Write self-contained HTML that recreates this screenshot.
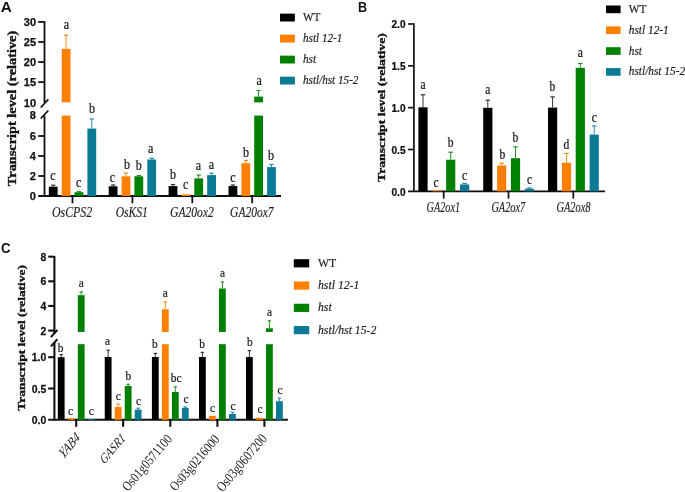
<!DOCTYPE html><html><head><meta charset="utf-8"><style>html,body{margin:0;padding:0;background:#fff;width:685px;height:492px;overflow:hidden}svg{display:block;filter:blur(0.4px)}</style></head><body>
<svg width="685" height="492" viewBox="0 0 685 492">
<rect width="685" height="492" fill="#fff"/>
<text transform="translate(0.80,12.00) scale(1.0335,1)" x="-0.00" y="0" font-family='"Liberation Sans", sans-serif' font-style="normal" font-weight="bold" font-size="14.78" fill="#111" stroke="#111" stroke-width="0">A</text>
<text transform="translate(358.00,11.60) scale(0.8899,1)" x="-0.00" y="0" font-family='"Liberation Sans", sans-serif' font-style="normal" font-weight="bold" font-size="14.20" fill="#111" stroke="#111" stroke-width="0">B</text>
<text transform="translate(1.00,253.40) scale(0.8805,1)" x="-0.00" y="0" font-family='"Liberation Sans", sans-serif' font-style="normal" font-weight="bold" font-size="15.14" fill="#111" stroke="#111" stroke-width="0">C</text>
<line x1="44.50" y1="21.25" x2="44.50" y2="102.60" stroke="#111" stroke-width="1.8"/>
<line x1="44.50" y1="115.40" x2="44.50" y2="196.65" stroke="#111" stroke-width="1.8"/>
<line x1="40.70" y1="107.50" x2="48.30" y2="99.40" stroke="#111" stroke-width="1.8"/>
<line x1="40.70" y1="118.50" x2="48.30" y2="110.50" stroke="#111" stroke-width="1.8"/>
<line x1="38.20" y1="21.90" x2="44.50" y2="21.90" stroke="#111" stroke-width="1.8"/>
<line x1="38.20" y1="41.97" x2="44.50" y2="41.97" stroke="#111" stroke-width="1.8"/>
<line x1="38.20" y1="62.05" x2="44.50" y2="62.05" stroke="#111" stroke-width="1.8"/>
<line x1="38.20" y1="82.12" x2="44.50" y2="82.12" stroke="#111" stroke-width="1.8"/>
<line x1="38.20" y1="136.00" x2="44.50" y2="136.00" stroke="#111" stroke-width="1.8"/>
<line x1="38.20" y1="156.00" x2="44.50" y2="156.00" stroke="#111" stroke-width="1.8"/>
<line x1="38.20" y1="176.00" x2="44.50" y2="176.00" stroke="#111" stroke-width="1.8"/>
<line x1="38.20" y1="196.00" x2="281.00" y2="196.00" stroke="#111" stroke-width="1.8"/>
<text transform="translate(23.79,26.15) scale(1.0000,1)" x="-0.00" y="0" font-family='"Liberation Sans", sans-serif' font-style="normal" font-weight="bold" font-size="11.00" fill="#111" stroke="#111" stroke-width="0.25">30</text>
<text transform="translate(23.79,46.22) scale(1.0000,1)" x="-0.00" y="0" font-family='"Liberation Sans", sans-serif' font-style="normal" font-weight="bold" font-size="11.00" fill="#111" stroke="#111" stroke-width="0.25">25</text>
<text transform="translate(23.79,66.30) scale(1.0000,1)" x="-0.00" y="0" font-family='"Liberation Sans", sans-serif' font-style="normal" font-weight="bold" font-size="11.00" fill="#111" stroke="#111" stroke-width="0.25">20</text>
<text transform="translate(23.79,86.32) scale(1.0000,1)" x="-0.00" y="0" font-family='"Liberation Sans", sans-serif' font-style="normal" font-weight="bold" font-size="11.00" fill="#111" stroke="#111" stroke-width="0.25">15</text>
<text transform="translate(23.79,106.65) scale(1.0000,1)" x="-0.00" y="0" font-family='"Liberation Sans", sans-serif' font-style="normal" font-weight="bold" font-size="11.00" fill="#111" stroke="#111" stroke-width="0.25">10</text>
<text transform="translate(29.84,119.45) scale(1.0000,1)" x="-0.00" y="0" font-family='"Liberation Sans", sans-serif' font-style="normal" font-weight="bold" font-size="11.00" fill="#111" stroke="#111" stroke-width="0.25">8</text>
<text transform="translate(29.84,140.05) scale(1.0000,1)" x="-0.00" y="0" font-family='"Liberation Sans", sans-serif' font-style="normal" font-weight="bold" font-size="11.00" fill="#111" stroke="#111" stroke-width="0.25">6</text>
<text transform="translate(29.84,159.99) scale(1.0000,1)" x="-0.00" y="0" font-family='"Liberation Sans", sans-serif' font-style="normal" font-weight="bold" font-size="11.00" fill="#111" stroke="#111" stroke-width="0.25">4</text>
<text transform="translate(29.84,180.05) scale(1.0000,1)" x="-0.00" y="0" font-family='"Liberation Sans", sans-serif' font-style="normal" font-weight="bold" font-size="11.00" fill="#111" stroke="#111" stroke-width="0.25">2</text>
<text transform="translate(29.84,200.05) scale(1.0000,1)" x="-0.00" y="0" font-family='"Liberation Sans", sans-serif' font-style="normal" font-weight="bold" font-size="11.00" fill="#111" stroke="#111" stroke-width="0.25">0</text>
<text transform="translate(16.00,186.20) rotate(-90) scale(1.1659,1)" x="-0.00" y="0" font-family='"Liberation Serif", serif' font-weight="bold" font-size="12.30" fill="#111" stroke="#111" stroke-width="0.35">Transcript level (relative)</text>
<line x1="72.50" y1="196.00" x2="72.50" y2="203.30" stroke="#111" stroke-width="1.8"/>
<line x1="132.40" y1="196.00" x2="132.40" y2="203.30" stroke="#111" stroke-width="1.8"/>
<line x1="192.30" y1="196.00" x2="192.30" y2="203.30" stroke="#111" stroke-width="1.8"/>
<line x1="252.20" y1="196.00" x2="252.20" y2="203.30" stroke="#111" stroke-width="1.8"/>
<rect x="48.80" y="186.70" width="8.80" height="9.30" fill="#000000"/>
<line x1="53.20" y1="185.20" x2="53.20" y2="186.70" stroke="#333" stroke-width="1.0"/>
<line x1="51.00" y1="185.20" x2="55.40" y2="185.20" stroke="#333" stroke-width="1.2"/>
<rect x="61.70" y="48.90" width="8.80" height="53.40" fill="#ff8000"/>
<rect x="61.70" y="115.60" width="8.80" height="80.40" fill="#ff8000"/>
<line x1="66.10" y1="35.20" x2="66.10" y2="48.90" stroke="#ff8a1a" stroke-width="1.0"/>
<line x1="63.90" y1="35.20" x2="68.30" y2="35.20" stroke="#ff8a1a" stroke-width="1.2"/>
<rect x="74.50" y="192.20" width="8.80" height="3.80" fill="#008000"/>
<line x1="78.90" y1="191.50" x2="78.90" y2="192.20" stroke="#2a8f2a" stroke-width="1.0"/>
<line x1="76.70" y1="191.50" x2="81.10" y2="191.50" stroke="#2a8f2a" stroke-width="1.2"/>
<rect x="87.40" y="128.60" width="8.80" height="67.40" fill="#0b7b95"/>
<line x1="91.80" y1="119.00" x2="91.80" y2="128.60" stroke="#2a8aa3" stroke-width="1.0"/>
<line x1="89.60" y1="119.00" x2="94.00" y2="119.00" stroke="#2a8aa3" stroke-width="1.2"/>
<rect x="108.70" y="186.30" width="8.80" height="9.70" fill="#000000"/>
<line x1="113.10" y1="185.00" x2="113.10" y2="186.30" stroke="#333" stroke-width="1.0"/>
<line x1="110.90" y1="185.00" x2="115.30" y2="185.00" stroke="#333" stroke-width="1.2"/>
<rect x="121.60" y="176.30" width="8.80" height="19.70" fill="#ff8000"/>
<line x1="126.00" y1="173.00" x2="126.00" y2="176.30" stroke="#ff8a1a" stroke-width="1.0"/>
<line x1="123.80" y1="173.00" x2="128.20" y2="173.00" stroke="#ff8a1a" stroke-width="1.2"/>
<rect x="134.40" y="176.30" width="8.80" height="19.70" fill="#008000"/>
<line x1="138.80" y1="175.60" x2="138.80" y2="176.30" stroke="#2a8f2a" stroke-width="1.0"/>
<line x1="136.60" y1="175.60" x2="141.00" y2="175.60" stroke="#2a8f2a" stroke-width="1.2"/>
<rect x="147.30" y="159.50" width="8.80" height="36.50" fill="#0b7b95"/>
<line x1="151.70" y1="158.30" x2="151.70" y2="159.50" stroke="#2a8aa3" stroke-width="1.0"/>
<line x1="149.50" y1="158.30" x2="153.90" y2="158.30" stroke="#2a8aa3" stroke-width="1.2"/>
<rect x="168.60" y="186.10" width="8.80" height="9.90" fill="#000000"/>
<line x1="173.00" y1="184.50" x2="173.00" y2="186.10" stroke="#333" stroke-width="1.0"/>
<line x1="170.80" y1="184.50" x2="175.20" y2="184.50" stroke="#333" stroke-width="1.2"/>
<rect x="181.50" y="194.40" width="8.80" height="1.60" fill="#ff8000"/>
<rect x="194.30" y="178.40" width="8.80" height="17.60" fill="#008000"/>
<line x1="198.70" y1="175.10" x2="198.70" y2="178.40" stroke="#2a8f2a" stroke-width="1.0"/>
<line x1="196.50" y1="175.10" x2="200.90" y2="175.10" stroke="#2a8f2a" stroke-width="1.2"/>
<rect x="207.20" y="175.10" width="8.80" height="20.90" fill="#0b7b95"/>
<line x1="211.60" y1="173.20" x2="211.60" y2="175.10" stroke="#2a8aa3" stroke-width="1.0"/>
<line x1="209.40" y1="173.20" x2="213.80" y2="173.20" stroke="#2a8aa3" stroke-width="1.2"/>
<rect x="228.50" y="186.10" width="8.80" height="9.90" fill="#000000"/>
<line x1="232.90" y1="185.00" x2="232.90" y2="186.10" stroke="#333" stroke-width="1.0"/>
<line x1="230.70" y1="185.00" x2="235.10" y2="185.00" stroke="#333" stroke-width="1.2"/>
<rect x="241.40" y="163.20" width="8.80" height="32.80" fill="#ff8000"/>
<line x1="245.80" y1="160.40" x2="245.80" y2="163.20" stroke="#ff8a1a" stroke-width="1.0"/>
<line x1="243.60" y1="160.40" x2="248.00" y2="160.40" stroke="#ff8a1a" stroke-width="1.2"/>
<rect x="254.20" y="96.60" width="8.80" height="5.80" fill="#008000"/>
<rect x="254.20" y="115.60" width="8.80" height="80.40" fill="#008000"/>
<line x1="258.60" y1="90.50" x2="258.60" y2="96.60" stroke="#2a8f2a" stroke-width="1.0"/>
<line x1="256.40" y1="90.50" x2="260.80" y2="90.50" stroke="#2a8f2a" stroke-width="1.2"/>
<rect x="267.10" y="167.10" width="8.80" height="28.90" fill="#0b7b95"/>
<line x1="271.50" y1="164.40" x2="271.50" y2="167.10" stroke="#2a8aa3" stroke-width="1.0"/>
<line x1="269.30" y1="164.40" x2="273.70" y2="164.40" stroke="#2a8aa3" stroke-width="1.2"/>
<text transform="translate(50.14,180.20) scale(0.8500,1)" x="-0.00" y="0" font-family='"Liberation Serif", serif' font-style="normal" font-weight="normal" font-size="14.20" fill="#1a1a1a" stroke="#1a1a1a" stroke-width="0.25">c</text>
<text transform="translate(63.74,29.10) scale(0.8500,1)" x="-0.00" y="0" font-family='"Liberation Serif", serif' font-style="normal" font-weight="normal" font-size="14.20" fill="#1a1a1a" stroke="#1a1a1a" stroke-width="0.25">a</text>
<text transform="translate(75.94,187.00) scale(0.8500,1)" x="-0.00" y="0" font-family='"Liberation Serif", serif' font-style="normal" font-weight="normal" font-size="14.20" fill="#1a1a1a" stroke="#1a1a1a" stroke-width="0.25">c</text>
<text transform="translate(88.88,113.20) scale(0.8500,1)" x="-0.00" y="0" font-family='"Liberation Serif", serif' font-style="normal" font-weight="normal" font-size="14.20" fill="#1a1a1a" stroke="#1a1a1a" stroke-width="0.25">b</text>
<text transform="translate(109.84,182.00) scale(0.8500,1)" x="-0.00" y="0" font-family='"Liberation Serif", serif' font-style="normal" font-weight="normal" font-size="14.20" fill="#1a1a1a" stroke="#1a1a1a" stroke-width="0.25">c</text>
<text transform="translate(123.88,168.70) scale(0.8500,1)" x="-0.00" y="0" font-family='"Liberation Serif", serif' font-style="normal" font-weight="normal" font-size="14.20" fill="#1a1a1a" stroke="#1a1a1a" stroke-width="0.25">b</text>
<text transform="translate(135.68,169.90) scale(0.8500,1)" x="-0.00" y="0" font-family='"Liberation Serif", serif' font-style="normal" font-weight="normal" font-size="14.20" fill="#1a1a1a" stroke="#1a1a1a" stroke-width="0.25">b</text>
<text transform="translate(148.04,152.80) scale(0.8500,1)" x="-0.00" y="0" font-family='"Liberation Serif", serif' font-style="normal" font-weight="normal" font-size="14.20" fill="#1a1a1a" stroke="#1a1a1a" stroke-width="0.25">a</text>
<text transform="translate(170.08,179.30) scale(0.8500,1)" x="-0.00" y="0" font-family='"Liberation Serif", serif' font-style="normal" font-weight="normal" font-size="14.20" fill="#1a1a1a" stroke="#1a1a1a" stroke-width="0.25">b</text>
<text transform="translate(182.94,189.40) scale(0.8500,1)" x="-0.00" y="0" font-family='"Liberation Serif", serif' font-style="normal" font-weight="normal" font-size="14.20" fill="#1a1a1a" stroke="#1a1a1a" stroke-width="0.25">c</text>
<text transform="translate(195.64,169.90) scale(0.8500,1)" x="-0.00" y="0" font-family='"Liberation Serif", serif' font-style="normal" font-weight="normal" font-size="14.20" fill="#1a1a1a" stroke="#1a1a1a" stroke-width="0.25">a</text>
<text transform="translate(208.64,169.00) scale(0.8500,1)" x="-0.00" y="0" font-family='"Liberation Serif", serif' font-style="normal" font-weight="normal" font-size="14.20" fill="#1a1a1a" stroke="#1a1a1a" stroke-width="0.25">a</text>
<text transform="translate(230.34,181.50) scale(0.8500,1)" x="-0.00" y="0" font-family='"Liberation Serif", serif' font-style="normal" font-weight="normal" font-size="14.20" fill="#1a1a1a" stroke="#1a1a1a" stroke-width="0.25">c</text>
<text transform="translate(243.08,156.50) scale(0.8500,1)" x="-0.00" y="0" font-family='"Liberation Serif", serif' font-style="normal" font-weight="normal" font-size="14.20" fill="#1a1a1a" stroke="#1a1a1a" stroke-width="0.25">b</text>
<text transform="translate(256.44,85.00) scale(0.8500,1)" x="-0.00" y="0" font-family='"Liberation Serif", serif' font-style="normal" font-weight="normal" font-size="14.20" fill="#1a1a1a" stroke="#1a1a1a" stroke-width="0.25">a</text>
<text transform="translate(267.98,160.10) scale(0.8500,1)" x="-0.00" y="0" font-family='"Liberation Serif", serif' font-style="normal" font-weight="normal" font-size="14.20" fill="#1a1a1a" stroke="#1a1a1a" stroke-width="0.25">b</text>
<text transform="translate(52.00,216.80) scale(0.7986,1)" x="-0.00" y="0" font-family='"Liberation Serif", serif' font-style="italic" font-weight="normal" font-size="14.85" fill="#222" stroke="#222" stroke-width="0.15">OsCPS2</text>
<rect x="280.10" y="13.80" width="14.60" height="7.50" fill="#000000"/>
<rect x="280.10" y="34.80" width="14.60" height="7.50" fill="#ff8000"/>
<rect x="280.10" y="55.80" width="14.60" height="7.50" fill="#008000"/>
<rect x="280.10" y="76.80" width="14.60" height="7.50" fill="#0b7b95"/>
<rect x="280.10" y="13.80" width="14.60" height="7.50" fill="#000000"/>
<text transform="translate(303.00,20.98) scale(0.9000,1)" x="-0.00" y="0" font-family='"Liberation Serif", serif' font-style="normal" font-size="12.40" fill="#222" stroke="#222" stroke-width="0.2">WT</text>
<rect x="280.10" y="34.80" width="14.60" height="7.50" fill="#ff8000"/>
<text transform="translate(303.00,41.98) scale(0.9000,1)" x="-0.00" y="0" font-family='"Liberation Serif", serif' font-style="italic" font-size="12.40" fill="#222" stroke="#222" stroke-width="0.2">hstl 12-1</text>
<rect x="280.10" y="55.80" width="14.60" height="7.50" fill="#008000"/>
<text transform="translate(303.00,62.98) scale(0.9000,1)" x="-0.00" y="0" font-family='"Liberation Serif", serif' font-style="italic" font-size="12.40" fill="#222" stroke="#222" stroke-width="0.2">hst</text>
<rect x="280.10" y="76.80" width="14.60" height="7.50" fill="#0b7b95"/>
<text transform="translate(303.00,83.98) scale(0.9000,1)" x="-0.00" y="0" font-family='"Liberation Serif", serif' font-style="italic" font-size="12.40" fill="#222" stroke="#222" stroke-width="0.2">hstl/hst 15-2</text>
<rect x="606.00" y="5.50" width="14.60" height="7.70" fill="#000000"/>
<text transform="translate(628.80,12.85) scale(0.9000,1)" x="-0.00" y="0" font-family='"Liberation Serif", serif' font-style="normal" font-size="12.60" fill="#222" stroke="#222" stroke-width="0.2">WT</text>
<rect x="606.00" y="26.35" width="14.60" height="7.70" fill="#ff8000"/>
<text transform="translate(628.80,33.70) scale(0.9000,1)" x="-0.00" y="0" font-family='"Liberation Serif", serif' font-style="italic" font-size="12.60" fill="#222" stroke="#222" stroke-width="0.2">hstl 12-1</text>
<rect x="606.00" y="47.20" width="14.60" height="7.70" fill="#008000"/>
<text transform="translate(628.80,54.55) scale(0.9000,1)" x="-0.00" y="0" font-family='"Liberation Serif", serif' font-style="italic" font-size="12.60" fill="#222" stroke="#222" stroke-width="0.2">hst</text>
<rect x="606.00" y="68.05" width="14.60" height="7.70" fill="#0b7b95"/>
<text transform="translate(628.80,75.40) scale(0.9000,1)" x="-0.00" y="0" font-family='"Liberation Serif", serif' font-style="italic" font-size="12.60" fill="#222" stroke="#222" stroke-width="0.2">hstl/hst 15-2</text>
<rect x="293.80" y="259.20" width="15.40" height="8.20" fill="#000000"/>
<text transform="translate(318.00,266.89) scale(0.9100,1)" x="-0.00" y="0" font-family='"Liberation Serif", serif' font-style="normal" font-size="12.90" fill="#222" stroke="#222" stroke-width="0.2">WT</text>
<rect x="293.80" y="281.47" width="15.40" height="8.20" fill="#ff8000"/>
<text transform="translate(318.00,289.16) scale(0.9100,1)" x="-0.00" y="0" font-family='"Liberation Serif", serif' font-style="italic" font-size="12.90" fill="#222" stroke="#222" stroke-width="0.2">hstl 12-1</text>
<rect x="293.80" y="303.74" width="15.40" height="8.20" fill="#008000"/>
<text transform="translate(318.00,311.43) scale(0.9100,1)" x="-0.00" y="0" font-family='"Liberation Serif", serif' font-style="italic" font-size="12.90" fill="#222" stroke="#222" stroke-width="0.2">hst</text>
<rect x="293.80" y="326.01" width="15.40" height="8.20" fill="#0b7b95"/>
<text transform="translate(318.00,333.70) scale(0.9100,1)" x="-0.00" y="0" font-family='"Liberation Serif", serif' font-style="italic" font-size="12.90" fill="#222" stroke="#222" stroke-width="0.2">hstl/hst 15-2</text>
<line x1="413.90" y1="23.35" x2="413.90" y2="191.95" stroke="#111" stroke-width="1.7"/>
<line x1="408.10" y1="24.00" x2="413.90" y2="24.00" stroke="#111" stroke-width="1.7"/>
<line x1="408.10" y1="65.83" x2="413.90" y2="65.83" stroke="#111" stroke-width="1.7"/>
<line x1="408.10" y1="107.65" x2="413.90" y2="107.65" stroke="#111" stroke-width="1.7"/>
<line x1="408.10" y1="149.48" x2="413.90" y2="149.48" stroke="#111" stroke-width="1.7"/>
<line x1="408.10" y1="191.30" x2="605.10" y2="191.30" stroke="#111" stroke-width="1.7"/>
<text transform="translate(391.49,28.42) scale(0.9000,1)" x="-0.00" y="0" font-family='"Liberation Sans", sans-serif' font-style="normal" font-weight="bold" font-size="11.20" fill="#111" stroke="#111" stroke-width="0.25">2.0</text>
<text transform="translate(391.49,70.19) scale(0.9000,1)" x="-0.00" y="0" font-family='"Liberation Sans", sans-serif' font-style="normal" font-weight="bold" font-size="11.20" fill="#111" stroke="#111" stroke-width="0.25">1.5</text>
<text transform="translate(391.49,112.07) scale(0.9000,1)" x="-0.00" y="0" font-family='"Liberation Sans", sans-serif' font-style="normal" font-weight="bold" font-size="11.20" fill="#111" stroke="#111" stroke-width="0.25">1.0</text>
<text transform="translate(391.49,153.90) scale(0.9000,1)" x="-0.00" y="0" font-family='"Liberation Sans", sans-serif' font-style="normal" font-weight="bold" font-size="11.20" fill="#111" stroke="#111" stroke-width="0.25">0.5</text>
<text transform="translate(391.49,195.72) scale(0.9000,1)" x="-0.00" y="0" font-family='"Liberation Sans", sans-serif' font-style="normal" font-weight="bold" font-size="11.20" fill="#111" stroke="#111" stroke-width="0.25">0.0</text>
<text transform="translate(384.90,182.00) rotate(-90) scale(1.2724,1)" x="-0.00" y="0" font-family='"Liberation Serif", serif' font-weight="bold" font-size="10.80" fill="#111" stroke="#111" stroke-width="0.35">Transcript level (relative)</text>
<line x1="443.70" y1="191.30" x2="443.70" y2="198.60" stroke="#111" stroke-width="1.7"/>
<line x1="508.50" y1="191.30" x2="508.50" y2="198.60" stroke="#111" stroke-width="1.7"/>
<line x1="573.30" y1="191.30" x2="573.30" y2="198.60" stroke="#111" stroke-width="1.7"/>
<rect x="418.40" y="107.30" width="9.20" height="84.00" fill="#000000"/>
<line x1="423.00" y1="94.80" x2="423.00" y2="107.30" stroke="#333" stroke-width="1.0"/>
<line x1="420.70" y1="94.80" x2="425.30" y2="94.80" stroke="#333" stroke-width="1.2"/>
<rect x="432.30" y="190.40" width="9.20" height="0.90" fill="#ff8000"/>
<rect x="446.10" y="159.70" width="9.20" height="31.60" fill="#008000"/>
<line x1="450.70" y1="152.20" x2="450.70" y2="159.70" stroke="#2a8f2a" stroke-width="1.0"/>
<line x1="448.40" y1="152.20" x2="453.00" y2="152.20" stroke="#2a8f2a" stroke-width="1.2"/>
<rect x="460.00" y="184.40" width="9.20" height="6.90" fill="#0b7b95"/>
<line x1="464.60" y1="183.40" x2="464.60" y2="184.40" stroke="#2a8aa3" stroke-width="1.0"/>
<line x1="462.30" y1="183.40" x2="466.90" y2="183.40" stroke="#2a8aa3" stroke-width="1.2"/>
<rect x="483.20" y="107.80" width="9.20" height="83.50" fill="#000000"/>
<line x1="487.80" y1="100.20" x2="487.80" y2="107.80" stroke="#333" stroke-width="1.0"/>
<line x1="485.50" y1="100.20" x2="490.10" y2="100.20" stroke="#333" stroke-width="1.2"/>
<rect x="497.10" y="165.50" width="9.20" height="25.80" fill="#ff8000"/>
<line x1="501.70" y1="163.30" x2="501.70" y2="165.50" stroke="#ff8a1a" stroke-width="1.0"/>
<line x1="499.40" y1="163.30" x2="504.00" y2="163.30" stroke="#ff8a1a" stroke-width="1.2"/>
<rect x="510.90" y="158.20" width="9.20" height="33.10" fill="#008000"/>
<line x1="515.50" y1="146.80" x2="515.50" y2="158.20" stroke="#2a8f2a" stroke-width="1.0"/>
<line x1="513.20" y1="146.80" x2="517.80" y2="146.80" stroke="#2a8f2a" stroke-width="1.2"/>
<rect x="524.80" y="188.70" width="9.20" height="2.60" fill="#0b7b95"/>
<line x1="529.40" y1="187.90" x2="529.40" y2="188.70" stroke="#2a8aa3" stroke-width="1.0"/>
<line x1="527.10" y1="187.90" x2="531.70" y2="187.90" stroke="#2a8aa3" stroke-width="1.2"/>
<rect x="548.00" y="107.60" width="9.20" height="83.70" fill="#000000"/>
<line x1="552.60" y1="96.90" x2="552.60" y2="107.60" stroke="#333" stroke-width="1.0"/>
<line x1="550.30" y1="96.90" x2="554.90" y2="96.90" stroke="#333" stroke-width="1.2"/>
<rect x="561.90" y="162.70" width="9.20" height="28.60" fill="#ff8000"/>
<line x1="566.50" y1="153.40" x2="566.50" y2="162.70" stroke="#ff8a1a" stroke-width="1.0"/>
<line x1="564.20" y1="153.40" x2="568.80" y2="153.40" stroke="#ff8a1a" stroke-width="1.2"/>
<rect x="575.70" y="67.80" width="9.20" height="123.50" fill="#008000"/>
<line x1="580.30" y1="63.50" x2="580.30" y2="67.80" stroke="#2a8f2a" stroke-width="1.0"/>
<line x1="578.00" y1="63.50" x2="582.60" y2="63.50" stroke="#2a8f2a" stroke-width="1.2"/>
<rect x="589.60" y="134.60" width="9.20" height="56.70" fill="#0b7b95"/>
<line x1="594.20" y1="126.00" x2="594.20" y2="134.60" stroke="#2a8aa3" stroke-width="1.0"/>
<line x1="591.90" y1="126.00" x2="596.50" y2="126.00" stroke="#2a8aa3" stroke-width="1.2"/>
<text transform="translate(420.56,89.00) scale(0.8500,1)" x="-0.00" y="0" font-family='"Liberation Serif", serif' font-style="normal" font-weight="normal" font-size="13.60" fill="#1a1a1a" stroke="#1a1a1a" stroke-width="0.25">a</text>
<text transform="translate(433.56,186.80) scale(0.8500,1)" x="-0.00" y="0" font-family='"Liberation Serif", serif' font-style="normal" font-weight="normal" font-size="13.60" fill="#1a1a1a" stroke="#1a1a1a" stroke-width="0.25">c</text>
<text transform="translate(447.71,146.50) scale(0.8500,1)" x="-0.00" y="0" font-family='"Liberation Serif", serif' font-style="normal" font-weight="normal" font-size="13.60" fill="#1a1a1a" stroke="#1a1a1a" stroke-width="0.25">b</text>
<text transform="translate(461.96,180.20) scale(0.8500,1)" x="-0.00" y="0" font-family='"Liberation Serif", serif' font-style="normal" font-weight="normal" font-size="13.60" fill="#1a1a1a" stroke="#1a1a1a" stroke-width="0.25">c</text>
<text transform="translate(485.36,94.10) scale(0.8500,1)" x="-0.00" y="0" font-family='"Liberation Serif", serif' font-style="normal" font-weight="normal" font-size="13.60" fill="#1a1a1a" stroke="#1a1a1a" stroke-width="0.25">a</text>
<text transform="translate(499.41,158.80) scale(0.8500,1)" x="-0.00" y="0" font-family='"Liberation Serif", serif' font-style="normal" font-weight="normal" font-size="13.60" fill="#1a1a1a" stroke="#1a1a1a" stroke-width="0.25">b</text>
<text transform="translate(512.61,141.70) scale(0.8500,1)" x="-0.00" y="0" font-family='"Liberation Serif", serif' font-style="normal" font-weight="normal" font-size="13.60" fill="#1a1a1a" stroke="#1a1a1a" stroke-width="0.25">b</text>
<text transform="translate(527.06,184.40) scale(0.8500,1)" x="-0.00" y="0" font-family='"Liberation Serif", serif' font-style="normal" font-weight="normal" font-size="13.60" fill="#1a1a1a" stroke="#1a1a1a" stroke-width="0.25">c</text>
<text transform="translate(549.61,91.30) scale(0.8500,1)" x="-0.00" y="0" font-family='"Liberation Serif", serif' font-style="normal" font-weight="normal" font-size="13.60" fill="#1a1a1a" stroke="#1a1a1a" stroke-width="0.25">b</text>
<text transform="translate(563.51,148.50) scale(0.8500,1)" x="-0.00" y="0" font-family='"Liberation Serif", serif' font-style="normal" font-weight="normal" font-size="13.60" fill="#1a1a1a" stroke="#1a1a1a" stroke-width="0.25">d</text>
<text transform="translate(577.66,57.10) scale(0.8500,1)" x="-0.00" y="0" font-family='"Liberation Serif", serif' font-style="normal" font-weight="normal" font-size="13.60" fill="#1a1a1a" stroke="#1a1a1a" stroke-width="0.25">a</text>
<text transform="translate(591.86,122.00) scale(0.8500,1)" x="-0.00" y="0" font-family='"Liberation Serif", serif' font-style="normal" font-weight="normal" font-size="13.60" fill="#1a1a1a" stroke="#1a1a1a" stroke-width="0.25">c</text>
<text transform="translate(426.60,211.80) scale(0.7096,1)" x="-0.00" y="0" font-family='"Liberation Serif", serif' font-style="italic" font-weight="normal" font-size="14.39" fill="#222" stroke="#222" stroke-width="0.15">GA2ox1</text>
<line x1="54.40" y1="256.03" x2="54.40" y2="333.50" stroke="#111" stroke-width="2.1"/>
<line x1="54.40" y1="342.80" x2="54.40" y2="420.45" stroke="#111" stroke-width="2.1"/>
<line x1="50.90" y1="337.10" x2="57.40" y2="329.90" stroke="#111" stroke-width="2.1"/>
<line x1="50.90" y1="346.40" x2="57.40" y2="339.30" stroke="#111" stroke-width="2.1"/>
<line x1="48.20" y1="256.68" x2="54.40" y2="256.68" stroke="#111" stroke-width="2.1"/>
<line x1="48.20" y1="281.32" x2="54.40" y2="281.32" stroke="#111" stroke-width="2.1"/>
<line x1="48.20" y1="305.96" x2="54.40" y2="305.96" stroke="#111" stroke-width="2.1"/>
<line x1="48.20" y1="330.60" x2="54.40" y2="330.60" stroke="#111" stroke-width="2.1"/>
<line x1="48.20" y1="357.20" x2="54.40" y2="357.20" stroke="#111" stroke-width="2.1"/>
<line x1="48.20" y1="388.50" x2="54.40" y2="388.50" stroke="#111" stroke-width="2.1"/>
<line x1="48.20" y1="419.80" x2="287.90" y2="419.80" stroke="#111" stroke-width="2.1"/>
<text transform="translate(40.45,260.73) scale(0.9500,1)" x="-0.00" y="0" font-family='"Liberation Sans", sans-serif' font-style="normal" font-weight="bold" font-size="11.00" fill="#111" stroke="#111" stroke-width="0.25">8</text>
<text transform="translate(40.45,285.37) scale(0.9500,1)" x="-0.00" y="0" font-family='"Liberation Sans", sans-serif' font-style="normal" font-weight="bold" font-size="11.00" fill="#111" stroke="#111" stroke-width="0.25">6</text>
<text transform="translate(40.45,309.96) scale(0.9500,1)" x="-0.00" y="0" font-family='"Liberation Sans", sans-serif' font-style="normal" font-weight="bold" font-size="11.00" fill="#111" stroke="#111" stroke-width="0.25">4</text>
<text transform="translate(40.45,334.65) scale(0.9500,1)" x="-0.00" y="0" font-family='"Liberation Sans", sans-serif' font-style="normal" font-weight="bold" font-size="11.00" fill="#111" stroke="#111" stroke-width="0.25">2</text>
<text transform="translate(31.77,361.45) scale(0.9500,1)" x="-0.00" y="0" font-family='"Liberation Sans", sans-serif' font-style="normal" font-weight="bold" font-size="11.00" fill="#111" stroke="#111" stroke-width="0.25">1.0</text>
<text transform="translate(31.77,392.75) scale(0.9500,1)" x="-0.00" y="0" font-family='"Liberation Sans", sans-serif' font-style="normal" font-weight="bold" font-size="11.00" fill="#111" stroke="#111" stroke-width="0.25">0.5</text>
<text transform="translate(31.77,424.05) scale(0.9500,1)" x="-0.00" y="0" font-family='"Liberation Sans", sans-serif' font-style="normal" font-weight="bold" font-size="11.00" fill="#111" stroke="#111" stroke-width="0.25">0.0</text>
<text transform="translate(24.90,410.70) rotate(-90) scale(1.2225,1)" x="-0.00" y="0" font-family='"Liberation Serif", serif' font-weight="bold" font-size="11.00" fill="#111" stroke="#111" stroke-width="0.35">Transcript level (relative)</text>
<line x1="76.20" y1="419.80" x2="76.20" y2="426.80" stroke="#111" stroke-width="2.1"/>
<line x1="123.15" y1="419.80" x2="123.15" y2="426.80" stroke="#111" stroke-width="2.1"/>
<line x1="170.30" y1="419.80" x2="170.30" y2="426.80" stroke="#111" stroke-width="2.1"/>
<line x1="217.40" y1="419.80" x2="217.40" y2="426.80" stroke="#111" stroke-width="2.1"/>
<line x1="264.40" y1="419.80" x2="264.40" y2="426.80" stroke="#111" stroke-width="2.1"/>
<rect x="57.80" y="357.20" width="6.80" height="62.60" fill="#000000"/>
<line x1="61.20" y1="354.60" x2="61.20" y2="357.20" stroke="#333" stroke-width="1.0"/>
<line x1="59.50" y1="354.60" x2="62.90" y2="354.60" stroke="#333" stroke-width="1.2"/>
<rect x="67.80" y="418.20" width="6.80" height="1.60" fill="#ff8000"/>
<rect x="77.80" y="295.20" width="6.80" height="36.80" fill="#008000"/>
<rect x="77.80" y="344.20" width="6.80" height="75.60" fill="#008000"/>
<line x1="81.20" y1="291.80" x2="81.20" y2="295.20" stroke="#2a8f2a" stroke-width="1.0"/>
<line x1="79.50" y1="291.80" x2="82.90" y2="291.80" stroke="#2a8f2a" stroke-width="1.2"/>
<rect x="87.80" y="418.90" width="6.80" height="0.90" fill="#0b7b95"/>
<rect x="104.75" y="357.00" width="6.80" height="62.80" fill="#000000"/>
<line x1="108.15" y1="350.30" x2="108.15" y2="357.00" stroke="#333" stroke-width="1.0"/>
<line x1="106.45" y1="350.30" x2="109.85" y2="350.30" stroke="#333" stroke-width="1.2"/>
<rect x="114.75" y="407.00" width="6.80" height="12.80" fill="#ff8000"/>
<line x1="118.15" y1="404.10" x2="118.15" y2="407.00" stroke="#ff8a1a" stroke-width="1.0"/>
<line x1="116.45" y1="404.10" x2="119.85" y2="404.10" stroke="#ff8a1a" stroke-width="1.2"/>
<rect x="124.75" y="385.90" width="6.80" height="33.90" fill="#008000"/>
<line x1="128.15" y1="384.30" x2="128.15" y2="385.90" stroke="#2a8f2a" stroke-width="1.0"/>
<line x1="126.45" y1="384.30" x2="129.85" y2="384.30" stroke="#2a8f2a" stroke-width="1.2"/>
<rect x="134.75" y="409.60" width="6.80" height="10.20" fill="#0b7b95"/>
<line x1="138.15" y1="408.20" x2="138.15" y2="409.60" stroke="#2a8aa3" stroke-width="1.0"/>
<line x1="136.45" y1="408.20" x2="139.85" y2="408.20" stroke="#2a8aa3" stroke-width="1.2"/>
<rect x="151.90" y="357.00" width="6.80" height="62.80" fill="#000000"/>
<line x1="155.30" y1="353.40" x2="155.30" y2="357.00" stroke="#333" stroke-width="1.0"/>
<line x1="153.60" y1="353.40" x2="157.00" y2="353.40" stroke="#333" stroke-width="1.2"/>
<rect x="161.90" y="309.30" width="6.80" height="22.70" fill="#ff8000"/>
<rect x="161.90" y="344.20" width="6.80" height="75.60" fill="#ff8000"/>
<line x1="165.30" y1="302.00" x2="165.30" y2="309.30" stroke="#ff8a1a" stroke-width="1.0"/>
<line x1="163.60" y1="302.00" x2="167.00" y2="302.00" stroke="#ff8a1a" stroke-width="1.2"/>
<rect x="171.90" y="392.00" width="6.80" height="27.80" fill="#008000"/>
<line x1="175.30" y1="386.90" x2="175.30" y2="392.00" stroke="#2a8f2a" stroke-width="1.0"/>
<line x1="173.60" y1="386.90" x2="177.00" y2="386.90" stroke="#2a8f2a" stroke-width="1.2"/>
<rect x="181.90" y="407.80" width="6.80" height="12.00" fill="#0b7b95"/>
<line x1="185.30" y1="407.00" x2="185.30" y2="407.80" stroke="#2a8aa3" stroke-width="1.0"/>
<line x1="183.60" y1="407.00" x2="187.00" y2="407.00" stroke="#2a8aa3" stroke-width="1.2"/>
<rect x="199.00" y="357.00" width="6.80" height="62.80" fill="#000000"/>
<line x1="202.40" y1="352.40" x2="202.40" y2="357.00" stroke="#333" stroke-width="1.0"/>
<line x1="200.70" y1="352.40" x2="204.10" y2="352.40" stroke="#333" stroke-width="1.2"/>
<rect x="209.00" y="415.80" width="6.80" height="4.00" fill="#ff8000"/>
<rect x="219.00" y="288.50" width="6.80" height="43.50" fill="#008000"/>
<rect x="219.00" y="344.20" width="6.80" height="75.60" fill="#008000"/>
<line x1="222.40" y1="282.00" x2="222.40" y2="288.50" stroke="#2a8f2a" stroke-width="1.0"/>
<line x1="220.70" y1="282.00" x2="224.10" y2="282.00" stroke="#2a8f2a" stroke-width="1.2"/>
<rect x="229.00" y="414.00" width="6.80" height="5.80" fill="#0b7b95"/>
<line x1="232.40" y1="412.30" x2="232.40" y2="414.00" stroke="#2a8aa3" stroke-width="1.0"/>
<line x1="230.70" y1="412.30" x2="234.10" y2="412.30" stroke="#2a8aa3" stroke-width="1.2"/>
<rect x="246.00" y="357.00" width="6.80" height="62.80" fill="#000000"/>
<line x1="249.40" y1="350.60" x2="249.40" y2="357.00" stroke="#333" stroke-width="1.0"/>
<line x1="247.70" y1="350.60" x2="251.10" y2="350.60" stroke="#333" stroke-width="1.2"/>
<rect x="256.00" y="417.70" width="6.80" height="2.10" fill="#ff8000"/>
<rect x="266.00" y="328.30" width="6.80" height="3.70" fill="#008000"/>
<rect x="266.00" y="344.20" width="6.80" height="75.60" fill="#008000"/>
<line x1="269.40" y1="320.80" x2="269.40" y2="328.30" stroke="#2a8f2a" stroke-width="1.0"/>
<line x1="267.70" y1="320.80" x2="271.10" y2="320.80" stroke="#2a8f2a" stroke-width="1.2"/>
<rect x="276.00" y="401.20" width="6.80" height="18.60" fill="#0b7b95"/>
<line x1="279.40" y1="398.10" x2="279.40" y2="401.20" stroke="#2a8aa3" stroke-width="1.0"/>
<line x1="277.70" y1="398.10" x2="281.10" y2="398.10" stroke="#2a8aa3" stroke-width="1.2"/>
<text transform="translate(57.75,351.60) scale(0.8500,1)" x="-0.00" y="0" font-family='"Liberation Serif", serif' font-style="normal" font-weight="normal" font-size="13.40" fill="#1a1a1a" stroke="#1a1a1a" stroke-width="0.25">b</text>
<text transform="translate(67.89,414.80) scale(0.8500,1)" x="-0.00" y="0" font-family='"Liberation Serif", serif' font-style="normal" font-weight="normal" font-size="13.40" fill="#1a1a1a" stroke="#1a1a1a" stroke-width="0.25">c</text>
<text transform="translate(78.69,286.70) scale(0.8500,1)" x="-0.00" y="0" font-family='"Liberation Serif", serif' font-style="normal" font-weight="normal" font-size="13.40" fill="#1a1a1a" stroke="#1a1a1a" stroke-width="0.25">a</text>
<text transform="translate(88.69,414.60) scale(0.8500,1)" x="-0.00" y="0" font-family='"Liberation Serif", serif' font-style="normal" font-weight="normal" font-size="13.40" fill="#1a1a1a" stroke="#1a1a1a" stroke-width="0.25">c</text>
<text transform="translate(104.99,344.60) scale(0.8500,1)" x="-0.00" y="0" font-family='"Liberation Serif", serif' font-style="normal" font-weight="normal" font-size="13.40" fill="#1a1a1a" stroke="#1a1a1a" stroke-width="0.25">a</text>
<text transform="translate(115.79,399.90) scale(0.8500,1)" x="-0.00" y="0" font-family='"Liberation Serif", serif' font-style="normal" font-weight="normal" font-size="13.40" fill="#1a1a1a" stroke="#1a1a1a" stroke-width="0.25">c</text>
<text transform="translate(125.55,379.80) scale(0.8500,1)" x="-0.00" y="0" font-family='"Liberation Serif", serif' font-style="normal" font-weight="normal" font-size="13.40" fill="#1a1a1a" stroke="#1a1a1a" stroke-width="0.25">b</text>
<text transform="translate(135.99,405.40) scale(0.8500,1)" x="-0.00" y="0" font-family='"Liberation Serif", serif' font-style="normal" font-weight="normal" font-size="13.40" fill="#1a1a1a" stroke="#1a1a1a" stroke-width="0.25">c</text>
<text transform="translate(152.05,348.30) scale(0.8500,1)" x="-0.00" y="0" font-family='"Liberation Serif", serif' font-style="normal" font-weight="normal" font-size="13.40" fill="#1a1a1a" stroke="#1a1a1a" stroke-width="0.25">b</text>
<text transform="translate(162.69,296.80) scale(0.8500,1)" x="-0.00" y="0" font-family='"Liberation Serif", serif' font-style="normal" font-weight="normal" font-size="13.40" fill="#1a1a1a" stroke="#1a1a1a" stroke-width="0.25">a</text>
<text transform="translate(170.85,381.80) scale(0.8500,1)" x="-0.00" y="0" font-family='"Liberation Serif", serif' font-style="normal" font-weight="normal" font-size="13.40" fill="#1a1a1a" stroke="#1a1a1a" stroke-width="0.25">bc</text>
<text transform="translate(183.39,403.20) scale(0.8500,1)" x="-0.00" y="0" font-family='"Liberation Serif", serif' font-style="normal" font-weight="normal" font-size="13.40" fill="#1a1a1a" stroke="#1a1a1a" stroke-width="0.25">c</text>
<text transform="translate(199.35,348.30) scale(0.8500,1)" x="-0.00" y="0" font-family='"Liberation Serif", serif' font-style="normal" font-weight="normal" font-size="13.40" fill="#1a1a1a" stroke="#1a1a1a" stroke-width="0.25">b</text>
<text transform="translate(209.99,411.70) scale(0.8500,1)" x="-0.00" y="0" font-family='"Liberation Serif", serif' font-style="normal" font-weight="normal" font-size="13.40" fill="#1a1a1a" stroke="#1a1a1a" stroke-width="0.25">c</text>
<text transform="translate(220.09,277.10) scale(0.8500,1)" x="-0.00" y="0" font-family='"Liberation Serif", serif' font-style="normal" font-weight="normal" font-size="13.40" fill="#1a1a1a" stroke="#1a1a1a" stroke-width="0.25">a</text>
<text transform="translate(230.49,410.30) scale(0.8500,1)" x="-0.00" y="0" font-family='"Liberation Serif", serif' font-style="normal" font-weight="normal" font-size="13.40" fill="#1a1a1a" stroke="#1a1a1a" stroke-width="0.25">c</text>
<text transform="translate(246.95,345.70) scale(0.8500,1)" x="-0.00" y="0" font-family='"Liberation Serif", serif' font-style="normal" font-weight="normal" font-size="13.40" fill="#1a1a1a" stroke="#1a1a1a" stroke-width="0.25">b</text>
<text transform="translate(257.49,413.10) scale(0.8500,1)" x="-0.00" y="0" font-family='"Liberation Serif", serif' font-style="normal" font-weight="normal" font-size="13.40" fill="#1a1a1a" stroke="#1a1a1a" stroke-width="0.25">c</text>
<text transform="translate(266.99,315.80) scale(0.8500,1)" x="-0.00" y="0" font-family='"Liberation Serif", serif' font-style="normal" font-weight="normal" font-size="13.40" fill="#1a1a1a" stroke="#1a1a1a" stroke-width="0.25">a</text>
<text transform="translate(277.49,393.60) scale(0.8500,1)" x="-0.00" y="0" font-family='"Liberation Serif", serif' font-style="normal" font-weight="normal" font-size="13.40" fill="#1a1a1a" stroke="#1a1a1a" stroke-width="0.25">c</text>
<text transform="translate(63.38,458.95) rotate(-49.60) scale(0.900,1) skewX(-14)" x="0" y="0" font-family='"Liberation Serif", serif' font-style="italic" font-weight="normal" font-size="13.40" fill="#222">YAB4</text>
<text transform="translate(104.26,464.67) rotate(-49.60) scale(0.900,1) skewX(-14)" x="0" y="0" font-family='"Liberation Serif", serif' font-style="italic" font-weight="normal" font-size="12.60" fill="#222">GASR1</text>
<text transform="translate(127.98,492.06) rotate(-49.62) scale(0.820,1) skewX(0)" x="0" y="0" font-family='"Liberation Serif", serif' font-style="normal" font-weight="normal" font-size="13.92" fill="#222">Os01g0571100</text>
<text transform="translate(175.54,491.67) rotate(-49.33) scale(0.820,1) skewX(0)" x="0" y="0" font-family='"Liberation Serif", serif' font-style="normal" font-weight="normal" font-size="13.71" fill="#222">Os03g0216000</text>
<text transform="translate(222.52,492.51) rotate(-49.87) scale(0.820,1) skewX(0)" x="0" y="0" font-family='"Liberation Serif", serif' font-style="normal" font-weight="normal" font-size="14.03" fill="#222">Os03g0607200</text>
<text transform="translate(115.70,216.80) scale(0.7801,1)" x="-0.00" y="0" font-family='"Liberation Serif", serif' font-style="italic" font-weight="normal" font-size="14.85" fill="#222" stroke="#222" stroke-width="0.15">OsKS1</text>
<text transform="translate(170.10,216.80) scale(0.8172,1)" x="-0.00" y="0" font-family='"Liberation Serif", serif' font-style="italic" font-weight="normal" font-size="14.18" fill="#222" stroke="#222" stroke-width="0.15">GA20ox2</text>
<text transform="translate(230.10,216.80) scale(0.8142,1)" x="-0.00" y="0" font-family='"Liberation Serif", serif' font-style="italic" font-weight="normal" font-size="14.18" fill="#222" stroke="#222" stroke-width="0.15">GA20ox7</text>
<text transform="translate(491.40,211.80) scale(0.7178,1)" x="-0.00" y="0" font-family='"Liberation Serif", serif' font-style="italic" font-weight="normal" font-size="14.39" fill="#222" stroke="#222" stroke-width="0.15">GA2ox7</text>
<text transform="translate(556.40,211.80) scale(0.7332,1)" x="-0.00" y="0" font-family='"Liberation Serif", serif' font-style="italic" font-weight="normal" font-size="14.18" fill="#222" stroke="#222" stroke-width="0.15">GA2ox8</text>
</svg></body></html>
